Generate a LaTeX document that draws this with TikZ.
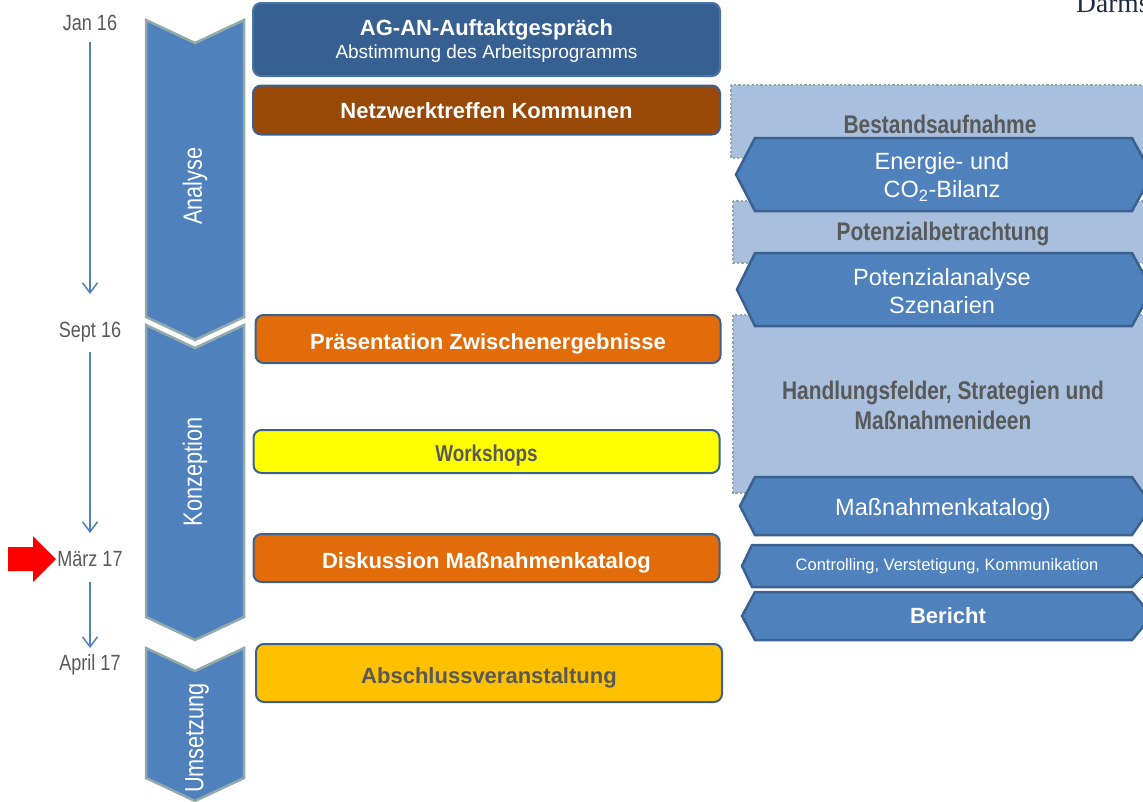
\documentclass[tikz,border=0pt]{standalone}
\usepackage{fontspec}
\setmainfont{Liberation Sans}
\newfontfamily\narrowfont[FakeStretch=0.82]{Liberation Sans}
\newfontfamily\seriffont{Liberation Serif}
\usetikzlibrary{arrows.meta}
\definecolor{phasefill}{HTML}{4F81BD}
\definecolor{phaseedge}{HTML}{93AAAA}
\definecolor{boxedge}{HTML}{3A6190}
\definecolor{agfill}{HTML}{366092}
\definecolor{agedge}{HTML}{4A74A8}
\definecolor{brownfill}{HTML}{984807}
\definecolor{orangefill}{HTML}{E36C0A}
\definecolor{yellowfill}{HTML}{FFFF00}
\definecolor{goldfill}{HTML}{FFC000}
\definecolor{graytext}{HTML}{595959}
\definecolor{lightfill}{HTML}{A8BFDE}
\definecolor{dotedge}{HTML}{8DA8A5}
\definecolor{hexedge}{HTML}{3A6190}
\definecolor{navytext}{HTML}{1F2A48}
\newcommand{\fs}[2]{\fontsize{#1}{#2}\selectfont}
\newcommand{\hexpath}[4]{%
  \path[hexbox] (#3,{(#1+#2)/2}) -- (#4,#1) -- (1132,#1) -- (1152,{(#1+#2)/2}) -- (1132,#2) -- (#4,#2) -- cycle;}
\newcommand{\phasepath}[2]{%
  \path[phasebox] (146,#1) -- (195,{#1+23}) -- (244,#1) -- (244,#2) -- (195,{#2+23}) -- (146,#2) -- cycle;}
\begin{document}
\begin{tikzpicture}[x=1pt,y=-1pt,
  rbox/.style={draw=boxedge, line width=2pt, rounded corners=8pt, inner sep=0pt,
    text=white, font=\bfseries\fs{22}{26}, text height=20pt, text depth=0pt},
  phasebox/.style={fill=phasefill, draw=phaseedge, line width=2.5pt},
  phaselabel/.style={rotate=90, text=white, font=\narrowfont\fs{26.5}{30}},
  dotbox/.style={fill=lightfill, draw=dotedge, line width=2.2pt, dash pattern=on 2.2pt off 2.2pt},
  hexbox/.style={fill=phasefill, draw=hexedge, line width=2.5pt},
  hextext/.style={text=white, align=center, font=\fs{23.5}{28.5}},
  dottext/.style={text=graytext, align=center, font=\narrowfont\bfseries\fs{25.5}{30}},
  datelabel/.style={text=graytext, font=\narrowfont\fs{22}{26}},
  tl/.style={draw=phasefill, line width=1.5pt, -{Straight Barb[length=10pt,width=15pt]}}
]
\useasboundingbox (0,0) rectangle (1143,801);
\fill[white] (0,0) rectangle (1143,801);

% top-right partial text
\node[anchor=base west, inner sep=0pt, text=navytext, font=\seriffont\fs{27.5}{30}] (darms) at (1076,12) {Darms};

% timeline
\node[datelabel] (jan) at (90,23) {Jan 16};
\node[datelabel] (sept) at (90,332) {Sept 16};
\node[datelabel] (maerz) at (90,559) {März 17};
\node[datelabel] (april) at (90,665) {April 17};
\draw[tl] ([yshift=-19pt]jan.center) -- ([yshift=38pt]sept.center);
\draw[tl] ([yshift=-20pt]sept.center) -- ([yshift=26pt]maerz.center);
\draw[tl] ([yshift=-23pt]maerz.center) -- ([yshift=17pt]april.center);
\fill[red] (8,547) -- (33,547) -- (33,536) -- (56,559) -- (33,582) -- (33,571) -- (8,571) -- cycle;

% phases
\phasepath{20}{317}
\phasepath{325}{617}
\phasepath{648}{778}
\node[phaselabel] (analyse) at (195,186) {Analyse};
\node[phaselabel] (konzeption) at (195,472) {Konzeption};
\node[phaselabel] (umsetzung) at (197,738) {Umsetzung};

% left boxes
\node[rbox, fill=agfill, draw=agedge, minimum width=467pt, minimum height=73pt] (ag) at (486.5,39.5) {};
\node[text=white, font=\bfseries\fs{22}{26}] (ag1) at (486.5,30) {AG-AN-Auftaktgespräch};
\node[text=white, font=\fs{19}{22}] (ag2) at (486.5,54) {Abstimmung des Arbeitsprogramms};
\node[rbox, fill=brownfill, minimum width=467pt, minimum height=49pt, text height=16pt] (netz) at (486.5,110) {Netzwerktreffen Kommunen};
\node[rbox, fill=orangefill, minimum width=465pt, minimum height=48pt] (praes) at (488,339) {Präsentation Zwischenergebnisse};
\node[rbox, fill=yellowfill, text=graytext, font=\narrowfont\bfseries\fs{23}{26}, minimum width=466pt, minimum height=43pt] (work) at (486.5,451.5) {Workshops};
\node[rbox, fill=orangefill, minimum width=466pt, minimum height=48pt] (disk) at (486.5,558) {Diskussion Maßnahmenkatalog};
\node[rbox, fill=goldfill, text=graytext, minimum width=466pt, minimum height=58pt] (absch) at (489,673) {Abschlussveranstaltung};

% right side: dotted background boxes
\path[dotbox] (731,85) rectangle (1160,158);
\path[dotbox] (733,201) rectangle (1160,263);
\path[dotbox] (733,315) rectangle (1160,493);
\node[dottext] (bestand) at (940,124) {Bestandsaufnahme};
\node[dottext] (potbetr) at (943,234) {Potenzialbetrachtung};
\node[dottext] (handl) at (943,405) {Handlungsfelder, Strategien und\\Maßnahmenideen};

% right side: hex boxes
\hexpath{138}{211}{736}{755}
\hexpath{253}{326}{737}{755}
\hexpath{477}{535}{740}{755}
\hexpath{545}{587}{742}{752}
\hexpath{592}{640}{742}{755}
\node[hextext] (bilanz) at (942,177) {Energie- und\\CO\textsubscript{2}-Bilanz};
\node[hextext] (potana) at (942,291) {Potenzialanalyse\\Szenarien};
\node[hextext] (katalog) at (943,509) {Maßnahmenkatalog)};
\node[hextext, font=\fs{16.5}{20}] (contr) at (947,566) {Controlling, Verstetigung, Kommunikation};
\node[hextext, font=\bfseries\fs{22}{26}] (bericht) at (948,616) {Bericht};
\end{tikzpicture}
\end{document}
